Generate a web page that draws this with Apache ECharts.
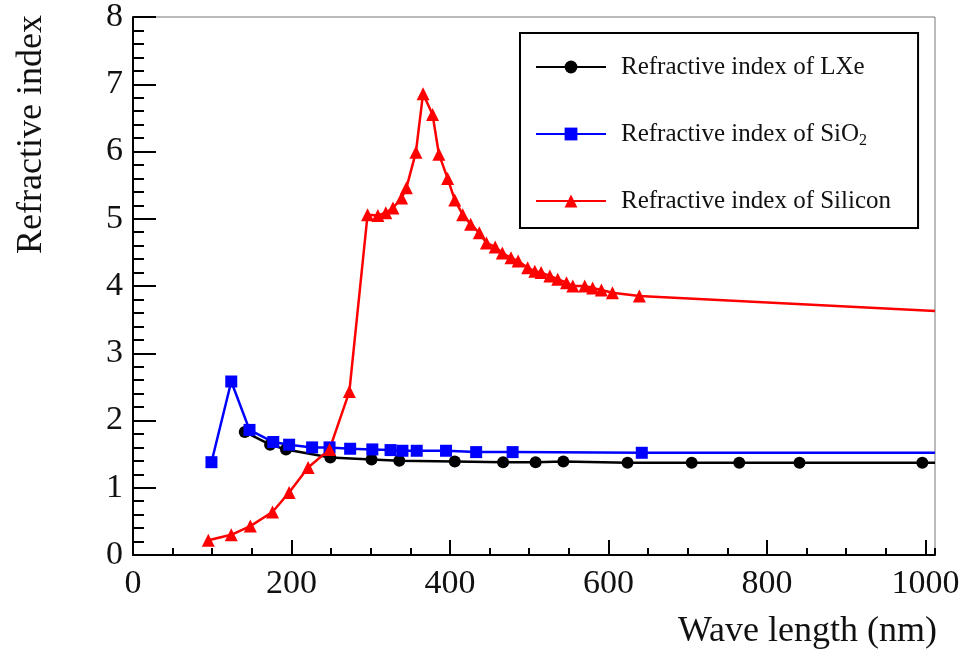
<!DOCTYPE html>
<html>
<head>
<meta charset="utf-8">
<script src="https://cdn.jsdelivr.net/npm/echarts@6/dist/echarts.min.js"></script>
<style>
  html, body { margin: 0; padding: 0; background: #fff; }
  #chart { width: 965px; height: 650px; }
</style>
</head>
<body>
<div id="chart"></div>
<script>
  // wavelengths (nm) and refractive indices
  var lxeX = [141, 173, 193, 249, 301, 336, 406, 467, 508, 543, 624, 705, 765, 841, 996, 1012];
  var lxeY = [1.83, 1.64, 1.57, 1.45, 1.42, 1.40, 1.39, 1.38, 1.38, 1.39, 1.37, 1.37, 1.37, 1.37, 1.37, 1.37];

  var sio2X = [99, 124, 147, 177, 197, 226, 248, 274, 302, 325, 340, 358, 395, 433, 479, 642, 1012];
  var sio2Y = [1.38, 2.58, 1.86, 1.68, 1.64, 1.60, 1.60, 1.58, 1.57, 1.56, 1.55, 1.55, 1.55, 1.53, 1.53, 1.52, 1.52];

  var siX = [95, 124, 148, 176, 197, 221, 248, 273, 296, 309, 319, 328, 339, 345, 357, 366, 378, 386, 397, 406,
             416, 426, 437, 446, 457, 466, 477, 486, 498, 507, 515, 526, 536, 547, 555, 570, 580, 591, 605, 639, 1012];
  var siY = [0.22, 0.30, 0.43, 0.64, 0.93, 1.30, 1.57, 2.43, 5.06, 5.05, 5.09, 5.16, 5.31, 5.46, 5.99, 6.86, 6.55, 5.96, 5.60, 5.28,
             5.06, 4.92, 4.79, 4.64, 4.58, 4.49, 4.42, 4.37, 4.27, 4.22, 4.20, 4.15, 4.10, 4.05, 4.00, 4.00, 3.97, 3.94, 3.90, 3.85, 3.63];

  var xTicks = [0, 200, 400, 600, 800, 1000];
  var yTicks = [0, 1, 2, 3, 4, 5, 6, 7, 8];

  var serif = '"Liberation Serif", "DejaVu Serif", serif';

  // last point of each curve is where the line leaves the frame: no marker there
  function pairs(xs, ys) {
    return xs.map(function (x, i) {
      var item = { value: [x, ys[i]] };
      if (i === xs.length - 1) item.symbol = 'none';
      return item;
    });
  }

  var chart = echarts.init(document.getElementById('chart'));

  chart.setOption({
    animation: false,
    backgroundColor: '#fff',
    grid: {
      left: 133, right: 30, top: 15, bottom: 95,
      show: true, borderColor: '#777', borderWidth: 1
    },
    legend: {
      orient: 'vertical',
      left: 520, top: 33,
      padding: [19, 27, 12, 15],
      itemWidth: 70, itemHeight: 16,
      itemGap: 37,
      borderColor: '#000', borderWidth: 2,
      backgroundColor: '#fff',
      textStyle: {
        fontFamily: serif, fontSize: 25, color: '#111', lineHeight: 30,
        padding: [0, 0, 0, 10],
        rich: {
          sub: { fontFamily: serif, fontSize: 16, color: '#111', verticalAlign: 'bottom', padding: [14, 0, 0, 0] }
        }
      },
      formatter: function (name) {
        return name === 'Refractive index of SiO2' ? 'Refractive index of SiO{sub|2}' : name;
      },
      data: ['Refractive index of LXe', 'Refractive index of SiO2', 'Refractive index of Silicon']
    },
    xAxis: [{
      type: 'value', position: 'bottom', min: 0, max: 1012, interval: 200,
      axisLine: { lineStyle: { color: '#000', width: 2 } },
      axisTick: { inside: true, length: 15, lineStyle: { color: '#000', width: 2 } },
      axisLabel: {
        fontFamily: serif, fontSize: 34, color: '#111', margin: 12,
        showMaxLabel: false,
        formatter: function (v) { return xTicks.indexOf(v) >= 0 ? String(v) : ''; }
      },
      splitLine: { show: false }
    }, {
      // minor ticks every 50 nm
      type: 'value', position: 'bottom', min: 0, max: 1012, interval: 50,
      axisLine: { show: false },
      axisTick: { inside: true, length: 7, lineStyle: { color: '#000', width: 2 } },
      axisLabel: { show: false },
      splitLine: { show: false }
    }],
    yAxis: {
      type: 'value', min: 0, max: 8, interval: 1,
      axisLine: { lineStyle: { color: '#000', width: 2 } },
      axisTick: { inside: true, length: 23, lineStyle: { color: '#000', width: 2 } },
      minorTick: { show: true, splitNumber: 5, length: 11, lineStyle: { color: '#000', width: 2 } },
      axisLabel: {
        fontFamily: serif, fontSize: 34, color: '#111', margin: 10,
        formatter: function (v) { return yTicks.indexOf(v) >= 0 ? String(v) : ''; }
      },
      splitLine: { show: false }
    },
    graphic: [{
      type: 'text', x: 937, y: 632,
      style: { text: 'Wave length (nm)', font: '36px ' + serif, fill: '#111', align: 'right', verticalAlign: 'middle' }
    }, {
      type: 'text', x: 32, y: 15, rotation: Math.PI / 2,
      style: { text: 'Refractive index', font: '36px ' + serif, fill: '#111', align: 'right', verticalAlign: 'middle' }
    }],
    series: [{
      name: 'Refractive index of LXe',
      type: 'line',
      data: pairs(lxeX, lxeY),
      symbol: 'circle', symbolSize: 12,
      itemStyle: { color: '#000' },
      lineStyle: { color: '#000', width: 2.5 }
    }, {
      name: 'Refractive index of SiO2',
      type: 'line',
      data: pairs(sio2X, sio2Y),
      symbol: 'rect', symbolSize: 12,
      itemStyle: { color: '#0000ff' },
      lineStyle: { color: '#0000ff', width: 2.5 }
    }, {
      name: 'Refractive index of Silicon',
      type: 'line',
      data: pairs(siX, siY),
      symbol: 'triangle', symbolSize: 13,
      itemStyle: { color: '#ff0000' },
      lineStyle: { color: '#ff0000', width: 2.5 }
    }]
  });
</script>
</body>
</html>
